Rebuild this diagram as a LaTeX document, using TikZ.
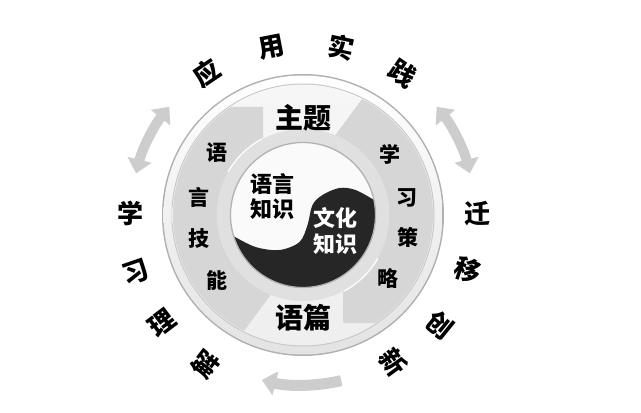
\documentclass[tikz,border=0pt]{standalone}
\usepackage{fontspec}
\newfontfamily\cjk{Noto Sans CJK SC}
\usetikzlibrary{arrows.meta}
\definecolor{bandgray}{HTML}{D6D6D6}
\definecolor{discgray}{HTML}{EDEDED}
\definecolor{ringgray}{HTML}{E0E0E0}
\definecolor{yinblack}{HTML}{262626}
\definecolor{arrowgray}{HTML}{CDCDCD}
\definecolor{rimgray}{HTML}{B0B0B0}
\begin{document}
\begin{tikzpicture}[x=1pt,y=1pt,
  outer/.style={font=\cjk\bfseries\fontsize{26}{26}\selectfont, inner sep=0pt},
  side/.style={font=\cjk\bfseries\fontsize{21}{21}\selectfont, inner sep=0pt},
  big/.style={font=\cjk\bfseries\fontsize{28}{28}\selectfont, inner sep=0pt},
  yin/.style={font=\cjk\bfseries\fontsize{22}{25.5}\selectfont, align=center, inner sep=0pt},
  garrow/.style={draw=arrowgray, line width=10pt},
  tipA/.tip={Triangle[width=24pt,length=14pt]},
]
\useasboundingbox (0,0) rectangle (641,413);
\fill[white] (0,0) rectangle (641,413);
\coordinate (O) at (303,198);
\begin{scope}[shift={(O)}]
  % outer grey arrows
  \draw[garrow, tipA-tipA] (141:172) arc[start angle=141, end angle=166, radius=172];
  \draw[garrow, tipA-tipA] (39:172) arc[start angle=39, end angle=14, radius=172];
  \draw[garrow, line width=11pt, -tipA] (-77:170) arc[start angle=-77, end angle=-104, radius=170];
  % disc with rim
  \fill[rimgray] (0,0) circle (141);
  \shade[top color=white, bottom color=gray!22] (0,0) circle (139.5);
  \fill[gray!45] (0,0) circle (131.5);
  \shade[top color=gray!7, bottom color=gray!13] (0,0) circle (130.5);
  % two curved grey bands
  \fill[bandgray] (-40,76) -- (-40,108) -- (123.8:130)
     arc[start angle=123.8, end angle=243, radius=130] -- (248:86)
     arc[start angle=248, end angle=117.8, radius=86] -- cycle;
  \begin{scope}[rotate=180]
    \fill[bandgray] (-40,76) -- (-40,108) -- (123.8:130)
       arc[start angle=123.8, end angle=243, radius=130] -- (248:86)
       arc[start angle=248, end angle=117.8, radius=86] -- cycle;
  \end{scope}
  % ring around yin-yang
  \fill[ringgray] (0,0) circle (86);
  \draw[white, line width=1.2pt] (118:86.5) arc[start angle=118, end angle=150, radius=86.5];
  \draw[white, line width=1.2pt] (298:86.5) arc[start angle=298, end angle=330, radius=86.5];
  % yin-yang
  \fill[gray!4] (0,0) circle (72.5);
  \fill[yinblack] plot[smooth, tension=0.55] coordinates {(197:72.5) (-47.5,-32) (-23.5,-35) (-3.5,-27) (4.5,-10) (9.5,10) (19.5,20) (36.5,27) (52.5,25) (12:72.5)}
     arc[start angle=12, end angle=-163, radius=72.5] -- cycle;
  \draw[gray!60, line width=1.3pt] (0,0) circle (72.5);
\end{scope}
% yin-yang texts
\node[yin] (lang) at (272.5,216.5) {语言\\知识};
\node[yin, text=white] (cult) at (335.5,182) {文化\\知识};
% theme and text
\node[big] (theme) at (303,295) {主题};
\node[big] (text) at (303,95) {语篇};
% language skills
\node[side] (s1) at (217,260) {语};
\node[side] (s2) at (199,216) {言};
\node[side] (s3) at (199,174) {技};
\node[side] (s4) at (217,133) {能};
% learning strategies
\node[side] (r1) at (390,259) {学};
\node[side] (r2) at (407,215) {习};
\node[side] (r3) at (408,176) {策};
\node[side] (r4) at (388,134) {略};
% outer ring words
\node[outer, rotate=34] (a1) at (207,340) {应};
\node[outer, rotate=11] (a2) at (272,366) {用};
\node[outer, rotate=-12] (a3) at (341,366) {实};
\node[outer, rotate=-34] (a4) at (403,339) {践};
\node[outer] (b1) at (477,199) {迁};
\node[outer, rotate=-18] (b2) at (468,143) {移};
\node[outer, rotate=-39] (b3) at (440,88) {创};
\node[outer, rotate=-54] (b4) at (393,51) {新};
\node[outer] (c1) at (130,200) {学};
\node[outer, rotate=19] (c2) at (136,141) {习};
\node[outer, rotate=37] (c3) at (162,90) {理};
\node[outer, rotate=53] (c4) at (205,49) {解};
\end{tikzpicture}
\end{document}
